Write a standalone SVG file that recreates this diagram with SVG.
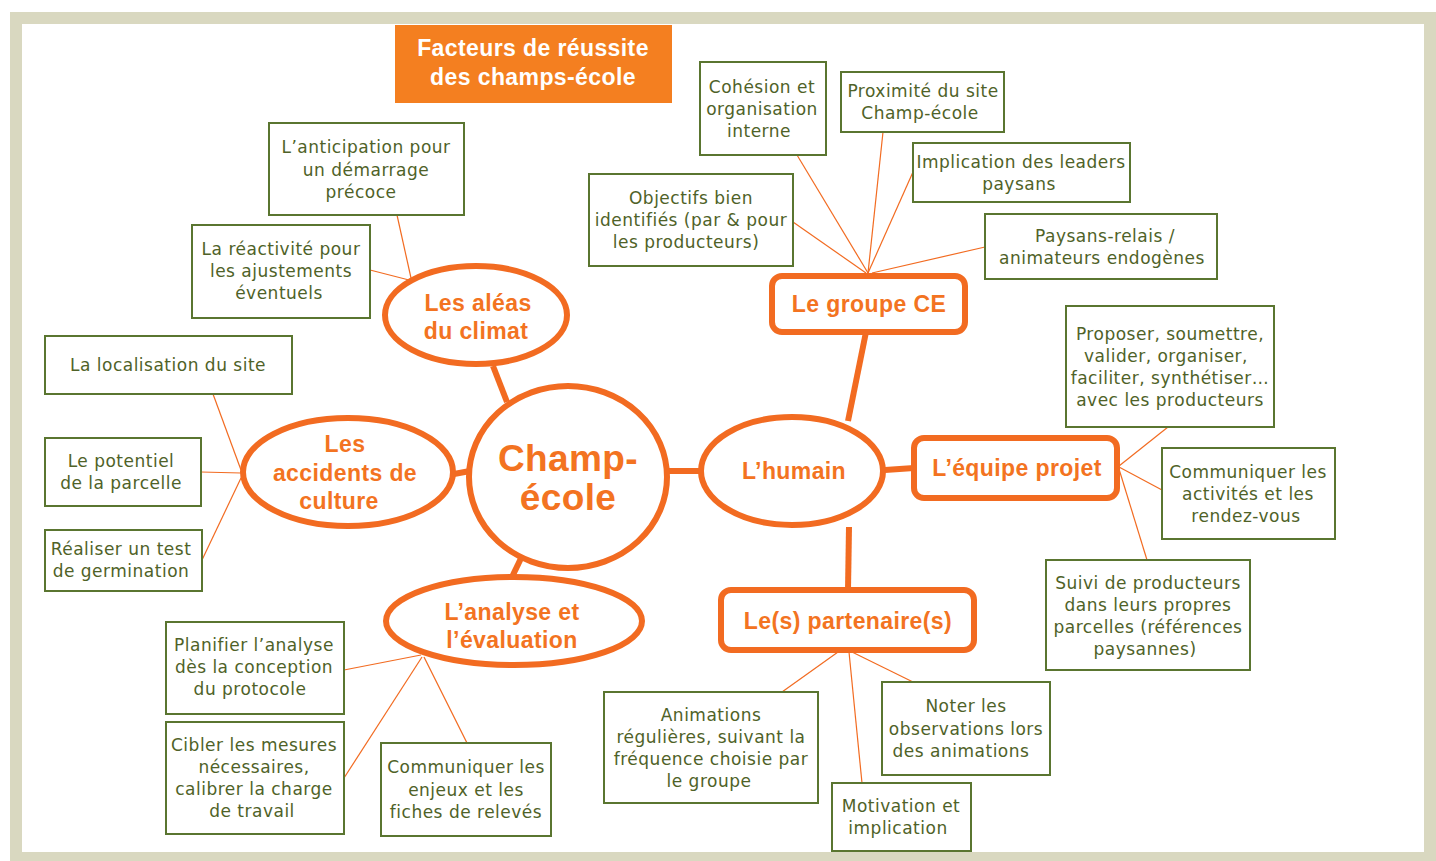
<svg xmlns="http://www.w3.org/2000/svg" width="1436" height="861" viewBox="0 0 1436 861">
<style>
.box{fill:#fff;stroke:#5a7530;stroke-width:2}
.bt{font-family:"DejaVu Sans","Liberation Sans",Arial,sans-serif;font-size:17px;letter-spacing:0.5px;fill:#4f6228;text-anchor:middle}
.on{fill:#fff;stroke:#f26b21;stroke-width:6}
.ot{font-family:"Liberation Sans",Arial,sans-serif;font-weight:bold;font-size:23px;letter-spacing:0.4px;fill:#f37321;text-anchor:middle}
.big{font-size:37px}
.thick{stroke:#f26b21;stroke-width:6;fill:none}
.thin{stroke:#f26b21;stroke-width:1.2;fill:none}
.tt{font-family:"Liberation Sans",Arial,sans-serif;font-weight:bold;font-size:23px;letter-spacing:0.4px;fill:#fff;text-anchor:middle}
</style>
<rect x="0" y="0" width="1436" height="861" fill="#fff"/>
<rect x="16" y="18" width="1414" height="840" fill="none" stroke="#d9d8c0" stroke-width="12"/>
<g id="title">
<rect x="395" y="25" width="277" height="78" fill="#f47f20"/>
<text class="tt" x="533" y="56">Facteurs de réussite</text>
<text class="tt" x="533" y="85">des champs-école</text>
</g>
<g id="connectors">
<line class="thick" x1="493" y1="366" x2="507" y2="402"/>
<line class="thick" x1="454" y1="474" x2="470" y2="471"/>
<line class="thick" x1="526" y1="548" x2="511" y2="579"/>
<line class="thick" x1="667" y1="471" x2="701" y2="471"/>
<line class="thick" x1="848" y1="421" x2="866" y2="332"/>
<line class="thick" x1="885" y1="470" x2="914" y2="468"/>
<line class="thick" x1="849" y1="527" x2="848" y2="590"/>
<line class="thin" x1="397" y1="215" x2="411" y2="278"/>
<line class="thin" x1="370" y1="270" x2="409" y2="280"/>
<line class="thin" x1="213" y1="394" x2="241" y2="470"/>
<line class="thin" x1="201" y1="472" x2="241" y2="473"/>
<line class="thin" x1="202" y1="560" x2="241" y2="478"/>
<line class="thin" x1="344" y1="670" x2="421" y2="655"/>
<line class="thin" x1="344" y1="778" x2="422" y2="657"/>
<line class="thin" x1="467" y1="743" x2="424" y2="657"/>
<line class="thin" x1="797" y1="155" x2="868" y2="273"/>
<line class="thin" x1="883" y1="132" x2="868" y2="273"/>
<line class="thin" x1="913" y1="172" x2="868" y2="273"/>
<line class="thin" x1="985" y1="247" x2="872" y2="273"/>
<line class="thin" x1="793" y1="222" x2="866" y2="273"/>
<line class="thin" x1="1168" y1="427" x2="1119" y2="466"/>
<line class="thin" x1="1162" y1="490" x2="1119" y2="467"/>
<line class="thin" x1="1147" y1="560" x2="1119" y2="469"/>
<line class="thin" x1="782" y1="692" x2="838" y2="652"/>
<line class="thin" x1="862" y1="783" x2="849" y2="652"/>
<line class="thin" x1="913" y1="682" x2="852" y2="652"/>
</g>
<g id="n-champ"><ellipse class="on" cx="568" cy="477" rx="99" ry="91"/>
<text class="ot big" x="568" y="471">Champ-</text><text class="ot big" x="568" y="510">école</text></g>
<g id="n-aleas"><ellipse class="on" cx="476" cy="315" rx="91" ry="49"/>
<text class="ot" x="478" y="311">Les aléas</text><text class="ot" x="476" y="339">du climat</text></g>
<g id="n-accidents"><ellipse class="on" cx="348" cy="472" rx="105" ry="54"/>
<text class="ot" x="345" y="452">Les</text><text class="ot" x="345" y="481">accidents de</text><text class="ot" x="339" y="509">culture</text></g>
<g id="n-analyse"><ellipse class="on" cx="514" cy="621" rx="128" ry="44"/>
<text class="ot" x="512" y="620">L’analyse et</text><text class="ot" x="512" y="648">l’évaluation</text></g>
<g id="n-humain"><ellipse class="on" cx="792" cy="471" rx="91" ry="54"/>
<text class="ot" x="794" y="479">L’humain</text></g>
<g id="n-groupe"><rect class="on" x="772" y="276" width="193" height="56" rx="10"/>
<text class="ot" x="869" y="312">Le groupe CE</text></g>
<g id="n-equipe"><rect class="on" x="914" y="438" width="203" height="60" rx="10"/>
<text class="ot" x="1017" y="476">L’équipe projet</text></g>
<g id="n-partenaires"><rect class="on" x="721" y="590" width="253" height="60" rx="10"/>
<text class="ot" x="848" y="629">Le(s) partenaire(s)</text></g>
<g id="b-anticipation"><rect class="box" x="269" y="123" width="195" height="92"/>
<text class="bt" x="366" y="153">L’anticipation pour</text><text class="bt" x="366" y="176">un démarrage</text><text class="bt" x="361" y="198">précoce</text></g>
<g id="b-reactivite"><rect class="box" x="192" y="225" width="178" height="93"/>
<text class="bt" x="281" y="255">La réactivité pour</text><text class="bt" x="281" y="277">les ajustements</text><text class="bt" x="279" y="299">éventuels</text></g>
<g id="b-localisation"><rect class="box" x="45" y="336" width="247" height="58"/>
<text class="bt" x="168" y="371">La localisation du site</text></g>
<g id="b-potentiel"><rect class="box" x="45" y="438" width="156" height="68"/>
<text class="bt" x="121" y="467">Le potentiel</text><text class="bt" x="121" y="489">de la parcelle</text></g>
<g id="b-germination"><rect class="box" x="45" y="530" width="157" height="61"/>
<text class="bt" x="121" y="555">Réaliser un test</text><text class="bt" x="121" y="577">de germination</text></g>
<g id="b-planifier"><rect class="box" x="166" y="622" width="178" height="92"/>
<text class="bt" x="254" y="651">Planifier l’analyse</text><text class="bt" x="254" y="673">dès la conception</text><text class="bt" x="250" y="695">du protocole</text></g>
<g id="b-cibler"><rect class="box" x="166" y="722" width="178" height="112"/>
<text class="bt" x="254" y="751">Cibler les mesures</text><text class="bt" x="254" y="773">nécessaires,</text><text class="bt" x="254" y="795">calibrer la charge</text><text class="bt" x="252" y="817">de travail</text></g>
<g id="b-enjeux"><rect class="box" x="381" y="743" width="170" height="93"/>
<text class="bt" x="466" y="773">Communiquer les</text><text class="bt" x="466" y="796">enjeux et les</text><text class="bt" x="466" y="818">fiches de relevés</text></g>
<g id="b-animations"><rect class="box" x="604" y="692" width="214" height="111"/>
<text class="bt" x="711" y="721">Animations</text><text class="bt" x="711" y="743">régulières, suivant la</text><text class="bt" x="711" y="765">fréquence choisie par</text><text class="bt" x="709" y="787">le groupe</text></g>
<g id="b-motivation"><rect class="box" x="832" y="783" width="139" height="68"/>
<text class="bt" x="901" y="812">Motivation et</text><text class="bt" x="898" y="834">implication</text></g>
<g id="b-noter"><rect class="box" x="882" y="682" width="168" height="93"/>
<text class="bt" x="966" y="712">Noter les</text><text class="bt" x="966" y="735">observations lors</text><text class="bt" x="961" y="757">des animations</text></g>
<g id="b-suivi"><rect class="box" x="1046" y="560" width="204" height="110"/>
<text class="bt" x="1148" y="589">Suivi de producteurs</text><text class="bt" x="1148" y="611">dans leurs propres</text><text class="bt" x="1148" y="633">parcelles (références</text><text class="bt" x="1145" y="655">paysannes)</text></g>
<g id="b-communiquer"><rect class="box" x="1162" y="448" width="173" height="91"/>
<text class="bt" x="1248" y="478">Communiquer les</text><text class="bt" x="1248" y="500">activités et les</text><text class="bt" x="1246" y="522">rendez-vous</text></g>
<g id="b-proposer"><rect class="box" x="1066" y="306" width="208" height="121"/>
<text class="bt" x="1170" y="340">Proposer, soumettre,</text><text class="bt" x="1166" y="362">valider, organiser,</text><text class="bt" x="1170" y="384">faciliter, synthétiser…</text><text class="bt" x="1170" y="406">avec les producteurs</text></g>
<g id="b-relais"><rect class="box" x="985" y="214" width="232" height="65"/>
<text class="bt" x="1105" y="242">Paysans-relais /</text><text class="bt" x="1102" y="264">animateurs endogènes</text></g>
<g id="b-leaders"><rect class="box" x="913" y="143" width="217" height="59"/>
<text class="bt" x="1021" y="168">Implication des leaders</text><text class="bt" x="1019" y="190">paysans</text></g>
<g id="b-proximite"><rect class="box" x="841" y="72" width="163" height="60"/>
<text class="bt" x="923" y="97">Proximité du site</text><text class="bt" x="920" y="119">Champ-école</text></g>
<g id="b-cohesion"><rect class="box" x="700" y="62" width="126" height="93"/>
<text class="bt" x="762" y="93">Cohésion et</text><text class="bt" x="762" y="115">organisation</text><text class="bt" x="759" y="137">interne</text></g>
<g id="b-objectifs"><rect class="box" x="589" y="174" width="204" height="92"/>
<text class="bt" x="691" y="204">Objectifs bien</text><text class="bt" x="691" y="226">identifiés (par &amp; pour</text><text class="bt" x="686" y="248">les producteurs)</text></g>
</svg>
